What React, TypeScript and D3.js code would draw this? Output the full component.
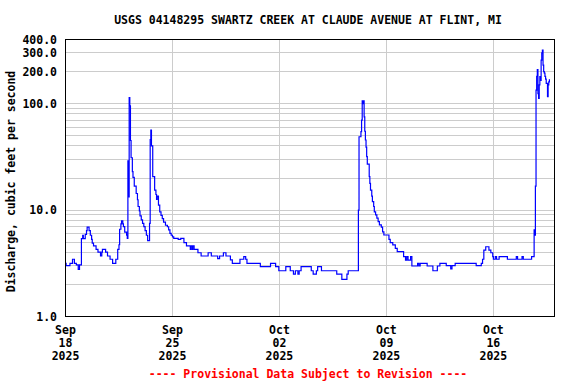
import React from 'react';
import * as d3 from 'd3';

const TITLE = 'USGS 04148295 SWARTZ CREEK AT CLAUDE AVENUE AT FLINT, MI';
const Y_LABEL = 'Discharge, cubic feet per second';
const FOOTER = '---- Provisional Data Subject to Revision ----';

// observation times (2025, "MM-DD HH") and discharge in cubic feet per second
const times: string[] = [
  '09-18 00', '09-18 01', '09-18 07', '09-18 11', '09-18 14', '09-18 17', '09-18 20', '09-18 22',
  '09-19 01', '09-19 03', '09-19 04', '09-19 07', '09-19 09', '09-19 10', '09-19 13', '09-19 15', '09-19 17', '09-19 18', '09-19 20',
  '09-20 00', '09-20 03', '09-20 07', '09-20 09', '09-20 10', '09-20 15', '09-20 18', '09-20 22',
  '09-21 02', '09-21 07', '09-21 10', '09-21 12', '09-21 13', '09-21 15', '09-21 16', '09-21 18', '09-21 19', '09-21 21',
  '09-22 00', '09-22 01', '09-22 02', '09-22 03', '09-22 04', '09-22 05', '09-22 06', '09-22 07', '09-22 09', '09-22 10', '09-22 12', '09-22 15', '09-22 17', '09-22 18', '09-22 20', '09-22 21', '09-22 23',
  '09-23 01', '09-23 03', '09-23 05', '09-23 07', '09-23 09', '09-23 12', '09-23 13', '09-23 14', '09-23 15', '09-23 17', '09-23 20', '09-23 22', '09-23 23',
  '09-24 00', '09-24 02', '09-24 04', '09-24 06', '09-24 08', '09-24 10', '09-24 13', '09-24 16', '09-24 18', '09-24 20', '09-24 22',
  '09-25 00', '09-25 02', '09-25 09', '09-25 13', '09-25 18', '09-25 22',
  '09-26 04', '09-26 05', '09-26 07', '09-26 08', '09-26 10', '09-26 16', '09-26 21',
  '09-27 08', '09-27 13', '09-27 23',
  '09-28 02', '09-28 08', '09-28 12', '09-28 19', '09-28 22',
  '09-29 10', '09-29 16', '09-29 19', '09-29 21',
  '09-30 18',
  '10-01 10', '10-01 18', '10-01 23',
  '10-02 10', '10-02 17', '10-02 22',
  '10-03 01', '10-03 05', '10-03 07', '10-03 10',
  '10-04 02', '10-04 05', '10-04 10', '10-04 12', '10-04 18',
  '10-05 18',
  '10-06 02', '10-06 10', '10-06 12',
  '10-07 04', '10-07 05', '10-07 08', '10-07 09', '10-07 10', '10-07 11', '10-07 12', '10-07 13', '10-07 14', '10-07 15', '10-07 16', '10-07 17', '10-07 18', '10-07 21', '10-07 22', '10-07 23',
  '10-08 01', '10-08 02', '10-08 04', '10-08 05', '10-08 07', '10-08 09', '10-08 11', '10-08 13', '10-08 16', '10-08 18', '10-08 20',
  '10-09 04', '10-09 06', '10-09 10', '10-09 14', '10-09 17',
  '10-10 03', '10-10 06', '10-10 08', '10-10 10', '10-10 14', '10-10 16',
  '10-11 01', '10-11 03', '10-11 05', '10-11 16',
  '10-12 01', '10-12 08', '10-12 12', '10-12 22',
  '10-13 05', '10-13 07', '10-13 12',
  '10-14 21',
  '10-15 05', '10-15 07', '10-15 09', '10-15 12', '10-15 17', '10-15 20', '10-15 23',
  '10-16 00', '10-16 03', '10-16 05', '10-16 09', '10-16 22',
  '10-17 12', '10-17 14', '10-17 21', '10-17 23',
  '10-18 12', '10-18 16', '10-18 17', '10-18 18', '10-18 19', '10-18 20', '10-18 21', '10-18 22', '10-18 23',
  '10-19 00', '10-19 01', '10-19 02', '10-19 03', '10-19 04', '10-19 05', '10-19 06', '10-19 07', '10-19 08', '10-19 09', '10-19 10', '10-19 11', '10-19 13', '10-19 14', '10-19 15', '10-19 16',
];

const discharge: number[] = [
  3.15, 3.0, 3.15, 3.45, 3.15, 3.05, 2.77, 3.05,
  5.4, 5.8, 5.4, 5.9, 6.4, 6.9, 6.4, 5.8, 5.3, 4.9, 4.6,
  4.27, 4.03, 3.7, 4.03, 4.27, 4.03, 3.7, 3.45,
  3.16, 3.45, 4.27, 4.72, 6.6, 7.4, 7.9, 7.4, 7.0, 6.2,
  5.8, 5.43, 29, 13.3, 114, 95, 45, 31, 23, 20.3, 16.8, 14.3, 12.5, 10.8, 9.8, 8.8, 8.1,
  7.5, 7.0, 6.4, 5.8, 5.16, 7.5, 46, 56.5, 40, 20.6, 15.4, 14, 12.6,
  13.5, 11.1, 9.6, 8.9, 8.3, 7.7, 7.2, 6.97, 6.5, 6.05, 5.8,
  5.6, 5.43, 5.3, 5.43, 4.94, 4.6,
  4.27, 4.6, 4.27, 4.6, 4.27, 3.97, 3.7,
  3.97, 3.7, 3.5,
  3.7, 3.97, 3.7, 3.4, 3.16,
  3.45, 3.65, 3.45, 3.16,
  2.94,
  3.16, 2.94, 2.69,
  2.94, 2.69, 2.5,
  2.69, 2.5, 2.69, 2.94,
  2.69, 2.5, 2.69, 2.94, 2.69,
  2.5,
  2.23, 2.5, 2.69,
  10, 48.8, 54.5, 70, 106, 100, 106, 75, 55, 45.5, 39, 31.7, 27, 20.6, 17.8, 15.4,
  13.5, 12, 10.8, 9.6, 9.0, 8.4, 7.8, 7.25, 6.9, 6.25, 5.83,
  5.3, 4.94, 4.7, 4.37, 4.06,
  3.65, 3.39, 3.65, 3.39, 3.65, 2.98,
  3.16, 2.98, 3.16, 2.98,
  2.69, 2.98, 3.16, 3.0,
  2.8, 3.0, 3.16,
  3.0,
  3.16, 3.45, 4.2, 4.52, 4.2, 3.97, 3.65,
  3.45, 3.65, 3.45, 3.65, 3.45,
  3.65, 3.45, 3.65, 3.45,
  3.65, 6.5, 5.8, 16.8, 134, 180, 209, 124, 112,
  150, 179, 165, 256, 300, 318, 230, 200, 193, 180, 170, 155, 116, 150, 160, 169,
];

const xDomain: string[] = ['2025-09-18 00', '2025-10-20 00'];
const xTickDates: string[] = ['2025-09-18 00', '2025-09-25 00', '2025-10-02 00', '2025-10-09 00', '2025-10-16 00'];
const yDomain: number[] = [1, 400];
const yLabelTicks: number[] = [1, 10, 100, 200, 300, 400];
const yGridValues: number[] = [2, 3, 4, 5, 6, 7, 8, 9, 10, 20, 30, 40, 50, 60, 70, 80, 90, 100, 200, 300];

const W = 576;
const H = 384;
const M = { left: 65.5, right: 554.5, top: 39.5, bottom: 316.5 };
const FONT = "'DejaVu Sans Mono', 'Liberation Mono', monospace";

const parse = d3.timeParse('%Y-%m-%d %H');

export default function App() {
  const data = times.map((t, i) => ({ date: parse('2025-' + t) as Date, value: discharge[i] }));
  const x = d3
    .scaleTime()
    .domain(xDomain.map((d) => parse(d) as Date))
    .range([M.left, M.right]);
  const y = d3.scaleLog().domain(yDomain).range([M.bottom, M.top]);
  const line = d3
    .line<{ date: Date; value: number }>()
    .x((d) => x(d.date))
    .y((d) => y(d.value))
    .curve(d3.curveStepAfter);

  const fmtMon = d3.timeFormat('%b');
  const fmtDay = d3.timeFormat('%d');
  const fmtYear = d3.timeFormat('%Y');
  const crisp = (v: number) => Math.round(v - 0.5) + 0.5;

  return (
    <svg
      width={W}
      height={H}
      style={{ position: 'absolute', left: 0, top: 0, background: '#fff' }}
      fontFamily={FONT}
      fontWeight="bold"
    >
      <rect x={0} y={0} width={W} height={H} fill="#fff" />
      <text x={308} y={24} textAnchor="middle" fontSize={11.5} fill="#000">
        {TITLE}
      </text>
      <g stroke="#cccccc" strokeWidth={1} shapeRendering="crispEdges">
        {yGridValues.map((v) => (
          <line key={'gy' + v} x1={M.left} x2={M.right} y1={crisp(y(v))} y2={crisp(y(v))} />
        ))}
        {xTickDates.slice(1).map((d) => {
          const xx = crisp(x(parse(d) as Date));
          return <line key={'gx' + d} x1={xx} x2={xx} y1={M.top} y2={M.bottom} />;
        })}
      </g>
      <path d={line(data) || ''} fill="none" stroke="#0000ff" strokeWidth={1.2} />
      <rect
        x={M.left}
        y={M.top}
        width={M.right - M.left}
        height={M.bottom - M.top}
        fill="none"
        stroke="#000"
        strokeWidth={1}
        shapeRendering="crispEdges"
      />
      <g fontSize={11.5} fill="#000" textAnchor="end">
        {yLabelTicks.map((v) => (
          <text key={'yl' + v} x={57} y={y(v)} dy="0.35em">
            {d3.format('.1f')(v)}
          </text>
        ))}
      </g>
      <g fontSize={11.5} fill="#000" textAnchor="middle">
        {xTickDates.map((d) => {
          const dt = parse(d) as Date;
          const xx = x(dt);
          return (
            <g key={'xl' + d}>
              <text x={xx} y={334}>{fmtMon(dt)}</text>
              <text x={xx} y={347}>{fmtDay(dt)}</text>
              <text x={xx} y={360}>{fmtYear(dt)}</text>
            </g>
          );
        })}
      </g>
      <text
        transform={`translate(15,181.5) rotate(-90)`}
        textAnchor="middle"
        fontSize={11.5}
        fill="#000"
      >
        {Y_LABEL}
      </text>
      <text x={308} y={378} textAnchor="middle" fontSize={11.5} fill="#ff0000">
        {FOOTER}
      </text>
    </svg>
  );
}
